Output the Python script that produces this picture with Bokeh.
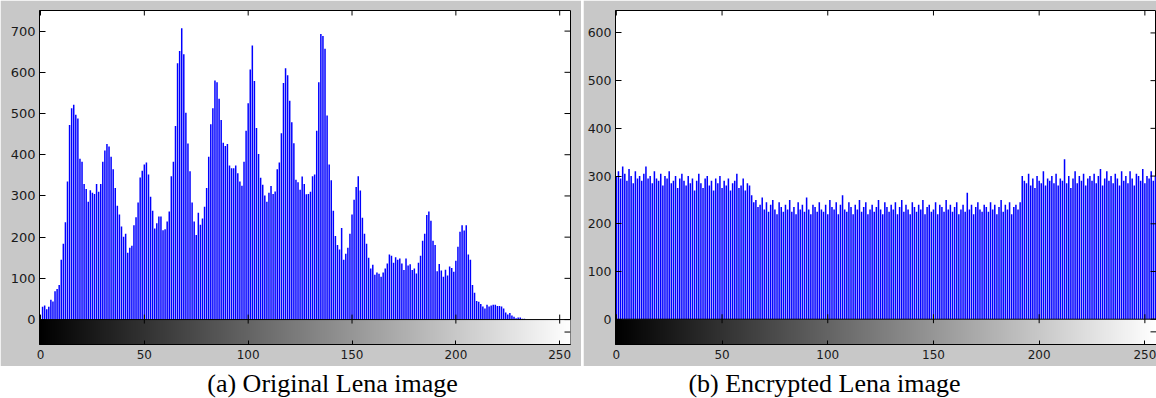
import numpy as np
from bokeh.plotting import figure
from bokeh.models import FixedTicker, Range1d, Label, Spacer, Span
from bokeh.layouts import column, row
from bokeh.embed import file_html
from bokeh.resources import INLINE

# ---------------- data ----------------
levels = list(range(256))

orig_counts = [
    0, 31, 34, 25, 31, 48, 44, 69, 74, 84, 145,
    184, 236, 335, 472, 513, 521, 497, 488, 390, 383,
    329, 317, 286, 314, 308, 305, 329, 310, 329, 383,
    410, 426, 420, 395, 365, 319, 276, 255, 226, 201,
    208, 162, 174, 179, 229, 248, 284, 345, 361, 376,
    381, 352, 298, 264, 221, 234, 250, 250, 217, 219,
    238, 262, 348, 383, 470, 622, 652, 707, 644, 502,
    427, 360, 284, 238, 205, 259, 230, 245, 274, 319,
    395, 474, 513, 580, 576, 536, 484, 429, 421, 426,
    374, 367, 367, 374, 355, 335, 325, 383, 458, 525,
    607, 665, 579, 465, 402, 344, 327, 301, 286, 308,
    324, 305, 311, 365, 381, 452, 574, 610, 593, 531,
    479, 428, 339, 333, 315, 347, 329, 304, 305, 310,
    348, 352, 458, 576, 693, 688, 657, 495, 376, 338,
    264, 203, 181, 170, 222, 145, 160, 174, 208, 255,
    291, 322, 348, 313, 247, 208, 184, 150, 124, 133,
    109, 114, 111, 104, 114, 124, 136, 158, 155, 138,
    151, 145, 148, 136, 120, 148, 131, 134, 120, 124,
    112, 138, 155, 191, 208, 254, 262, 240, 191, 181,
    117, 135, 119, 104, 121, 107, 129, 125, 116, 143,
    177, 213, 229, 216, 229, 158, 145, 84, 65, 45,
    43, 38, 32, 27, 36, 32, 34, 36, 36, 33,
    33, 32, 27, 17, 12, 16, 10, 7, 3, 5,
    5, 2, 2,
    0, 0, 0, 0, 0, 0, 0, 0, 0, 0, 0,
    0, 0, 0, 0, 0, 0, 0, 0, 0, 0, 0,
]

enc_counts = [
    300, 310, 295, 320, 305, 290, 315, 300, 285, 310, 295, 300, 290, 305, 320, 295,
    300, 285, 310, 295, 290, 305, 280, 300, 295, 310, 285, 290, 300, 275, 295, 305,
    290, 280, 300, 285, 295, 270, 290, 305, 285, 275, 295, 300, 280, 290, 270, 295,
    285, 300, 275, 290, 280, 295, 270, 285, 290, 305, 275, 280, 295, 270, 285, 280,
    260, 245, 250, 235, 240, 255, 230, 245, 225, 240, 250, 230, 220, 245, 235, 225,
    240, 230, 250, 225, 235, 220, 245, 230, 240, 225, 255, 230, 220, 240, 235, 225,
    245, 230, 225, 240, 220, 250, 235, 230, 245, 220, 240, 260, 230, 225, 245, 235,
    220, 240, 230, 250, 225, 235, 245, 220, 230, 240, 225, 235, 250, 230, 220, 245,
    235, 225, 240, 230, 245, 220, 235, 250, 225, 240, 230, 220, 245, 235, 225, 240,
    230, 250, 220, 235, 240, 225, 230, 245, 220, 240, 235, 225, 250, 230, 240, 225,
    235, 245, 220, 230, 240, 225, 265, 230, 240, 220, 235, 245, 230, 225, 240, 235,
    225, 245, 230, 240, 220, 235, 250, 225, 240, 230, 245, 220, 235, 240, 230, 245,
    300, 290, 285, 305, 280, 295, 275, 300, 290, 285, 310, 280, 295, 290, 300, 285,
    305, 280, 295, 290, 335, 285, 300, 275, 295, 310, 285, 300, 290, 305, 280, 295,
    300, 290, 305, 285, 300, 315, 280, 295, 310, 290, 300, 285, 305, 295, 280, 310,
    290, 300, 285, 310, 295, 280, 305, 300, 290, 315, 285, 300, 295, 310, 290, 300,
]

x_ticks = [0, 50, 100, 150, 200, 250]
orig_yticks = [0, 100, 200, 300, 400, 500, 600, 700]
enc_yticks = [0, 100, 200, 300, 400, 500, 600]
captions = ["(a) Original Lena image", "(b) Encrypted Lena image"]

GRAY = "#c8c8c8"
BLUE = "#0000ff"
TICK_FONT = "DejaVu Sans"


def gray_ramp():
    g = np.linspace(0, 255, 256).astype(np.uint32)
    rgba = (255 << 24) | (g << 16) | (g << 8) | g
    return rgba.reshape(1, 256)


def panel(counts, yticks, xr, yr, width, height, bl, br, bt, bb, ylab_size):
    p = figure(width=width, height=height,
               x_range=Range1d(*xr), y_range=Range1d(*yr),
               output_backend="svg", toolbar_location=None,
               min_border_left=bl, min_border_right=br,
               min_border_top=bt, min_border_bottom=bb,
               background_fill_color="white", border_fill_color=GRAY,
               outline_line_color="black", outline_line_width=1)
    p.grid.visible = False
    ppu_y = (height - bt - bb) / (yr[1] - yr[0])
    ppu_x = (width - bl - br) / (xr[1] - xr[0])

    p.vbar(x=levels, top=counts, bottom=0, width=0.72,
           fill_color=BLUE, line_color=None)

    # gray-level colour bar under the histogram
    p.image_rgba(image=[gray_ramp()], x=-0.5, y=yr[0], dw=256, dh=-yr[0])
    p.add_layout(Span(location=0, dimension="width",
                      line_color="black", line_width=1))

    n = len(x_ticks)
    # tick marks on the histogram / colour bar boundary
    p.segment(x0=x_ticks, x1=x_ticks, y0=[-4 / ppu_y] * n,
              y1=[5 / ppu_y] * n, line_color="black", line_width=1)
    # inward ticks on the top edge
    p.segment(x0=x_ticks, x1=x_ticks, y0=[yr[1] - 5 / ppu_y] * n,
              y1=[yr[1]] * n, line_color="black", line_width=1)
    # inward ticks on the right edge (plus colour bar tick)
    rticks = [yr[0] / 2] + yticks
    m = len(rticks)
    p.segment(x0=[xr[1] - 6 / ppu_x] * m, x1=[xr[1]] * m,
              y0=rticks, y1=rticks, line_color="black", line_width=1)

    xa = p.xaxis[0]
    xa.ticker = FixedTicker(ticks=x_ticks)
    xa.major_tick_in = 4
    xa.major_tick_out = 0
    xa.minor_tick_line_color = None
    xa.major_label_standoff = 5
    xa.major_label_text_font = TICK_FONT
    xa.major_label_text_font_size = "12px"
    xa.major_label_text_color = "#1a1a1a"
    xa.axis_line_color = "black"

    ya = p.yaxis[0]
    ya.ticker = FixedTicker(ticks=yticks)
    ya.major_tick_in = 6
    ya.major_tick_out = 0
    ya.minor_tick_line_color = None
    ya.major_label_standoff = 4
    ya.major_label_text_font = TICK_FONT
    ya.major_label_text_font_size = ylab_size
    ya.major_label_text_color = "#1a1a1a"
    ya.axis_line_color = "black"
    return p


left = panel(orig_counts, orig_yticks, (-0.48, 255.2), (-60.5, 750),
             width=581, height=366, bl=39, br=11, bt=9, bb=22,
             ylab_size="13px")
right = panel(enc_counts, enc_yticks, (-0.4, 255.5), (-53, 647),
              width=573, height=366, bl=32, br=0, bt=10, bb=20,
              ylab_size="12.5px")

cap = figure(width=1156, height=32, x_range=Range1d(0, 1156),
             y_range=Range1d(0, 32), output_backend="svg",
             toolbar_location=None, min_border=0,
             background_fill_color="white", border_fill_color="white",
             outline_line_color=None)
cap.axis.visible = False
cap.grid.visible = False
for txt, xc in zip(captions, [332, 824]):
    cap.add_layout(Label(x=xc, y=15, x_units="screen", y_units="screen",
                         text=txt, text_align="center",
                         text_baseline="middle",
                         text_font="Liberation Serif",
                         text_font_size="26px", text_color="black"))

layout = column(row(left, Spacer(width=2, height=366), right), cap)

open("out.html", "w").write(file_html(layout, INLINE))
